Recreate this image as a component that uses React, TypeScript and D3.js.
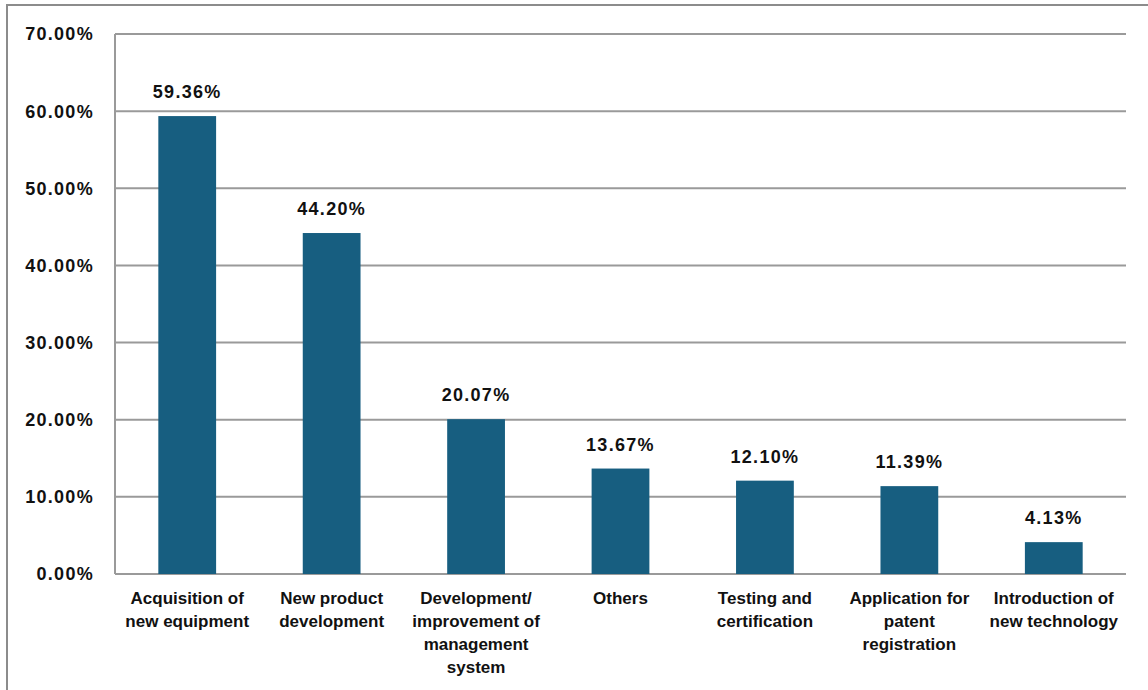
import React from "react";
import * as d3 from "d3";

const categories: string[][] = [
  ["Acquisition of", "new equipment"],
  ["New product", "development"],
  ["Development/", "improvement of", "management", "system"],
  ["Others"],
  ["Testing and", "certification"],
  ["Application for", "patent", "registration"],
  ["Introduction of", "new technology"],
];
const values: number[] = [59.36, 44.2, 20.07, 13.67, 12.1, 11.39, 4.13];
const yTicks: number[] = [0, 10, 20, 30, 40, 50, 60, 70];

const W = 1148;
const H = 690;
const left = 115;
const right = 1126;
const top = 34;
const bottom = 574;
const barColor = "#175e80";
const gridColor = "#9a9a9a";
const font = "'Liberation Sans', Arial, sans-serif";

export default function App() {
  const x = d3
    .scaleBand<number>()
    .domain(d3.range(categories.length))
    .range([left, right])
    .paddingInner(0.6)
    .paddingOuter(0.3);
  const y = d3.scaleLinear().domain([0, 70]).range([bottom, top]);

  return (
    <svg
      width={W}
      height={H}
      style={{ position: "absolute", left: 0, top: 0, background: "#fff" }}
    >
      {/* outer frame */}
      <rect x={7} y={5} width={W + 10} height={H + 10} fill="#fff" stroke="#8c8c8c" strokeWidth={2} />

      {/* gridlines */}
      {yTicks.map((t) => (
        <line key={t} x1={left} x2={right} y1={y(t)} y2={y(t)} stroke={gridColor} strokeWidth={2} />
      ))}
      <line x1={left} x2={left} y1={top} y2={bottom} stroke={gridColor} strokeWidth={2} />

      {/* y tick labels */}
      {yTicks.map((t) => (
        <text
          key={"l" + t}
          x={94}
          y={y(t)}
          dy="0.36em"
          textAnchor="end"
          fontFamily={font}
          fontWeight="bold"
          fontSize={18}
          letterSpacing={1.3}
          fill="#111"
        >
          {t.toFixed(2)}%
        </text>
      ))}

      {/* bars */}
      {values.map((v, i) => (
        <rect
          key={"b" + i}
          x={x(i)}
          y={y(v)}
          width={x.bandwidth()}
          height={y(0) - y(v)}
          fill={barColor}
        />
      ))}

      {/* value labels */}
      {values.map((v, i) => (
        <text
          key={"v" + i}
          x={(x(i) as number) + x.bandwidth() / 2}
          y={y(v) - 18}
          textAnchor="middle"
          fontFamily={font}
          fontWeight="bold"
          fontSize={18}
          letterSpacing={1.3}
          fill="#111"
        >
          {v.toFixed(2)}%
        </text>
      ))}

      {/* category labels */}
      {categories.map((lines, i) => (
        <text
          key={"c" + i}
          x={(x(i) as number) + x.bandwidth() / 2}
          y={604}
          textAnchor="middle"
          fontFamily={font}
          fontWeight="bold"
          fontSize={17}
          fill="#111"
        >
          {lines.map((ln, j) => (
            <tspan key={j} x={(x(i) as number) + x.bandwidth() / 2} dy={j === 0 ? 0 : 23}>
              {ln}
            </tspan>
          ))}
        </text>
      ))}
    </svg>
  );
}
